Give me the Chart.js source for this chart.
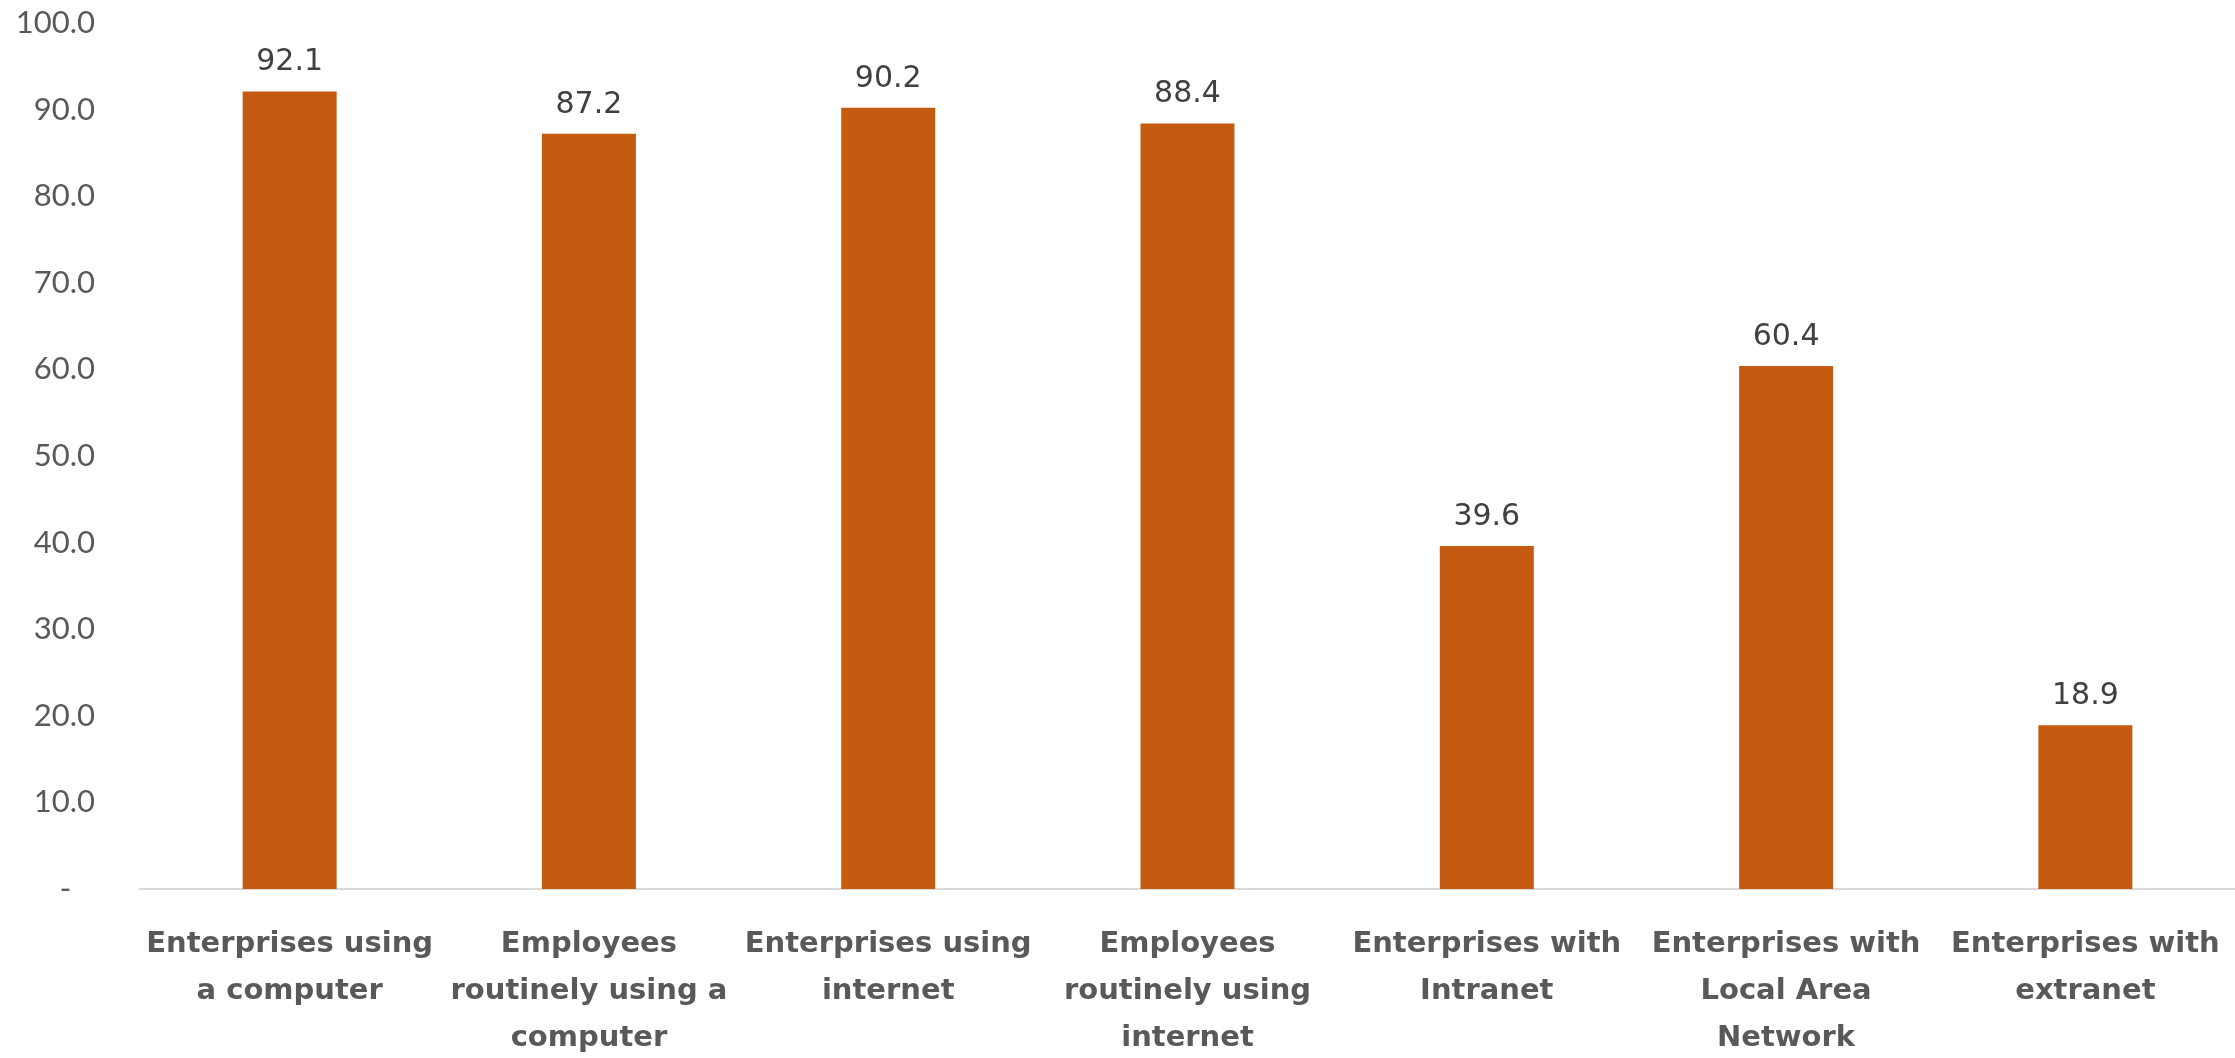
<!DOCTYPE html>
<html>
<head>
<meta charset="utf-8">
<title>ICT use in enterprises</title>
<script src="https://cdn.jsdelivr.net/npm/chart.js@4.4.1/dist/chart.umd.min.js"></script>
<style>
  html, body { margin: 0; padding: 0; background: #ffffff; }
  #wrap { width: 2235px; height: 1058px; }
</style>
</head>
<body>
<div id="wrap"><canvas id="ict-chart" width="2235" height="1058"></canvas></div>
<script>
// categories (split into the lines shown under each bar)
const categories = [
    ['Enterprises using', 'a computer'],
    ['Employees', 'routinely using a', 'computer'],
    ['Enterprises using', 'internet'],
    ['Employees', 'routinely using', 'internet'],
    ['Enterprises with', 'Intranet'],
    ['Enterprises with', 'Local Area', 'Network'],
    ['Enterprises with', 'extranet']
];
const percentages = [92.1, 87.2, 90.2, 88.4, 39.6, 60.4, 18.9];
const yTicks = [0, 10, 20, 30, 40, 50, 60, 70, 80, 90, 100];

const barColor = '#C55A11';

// write the value above each bar
const valueLabels = {
    id: 'valueLabels',
    afterDatasetsDraw(chart) {
        const ctx = chart.ctx;
        const meta = chart.getDatasetMeta(0);
        ctx.save();
        ctx.font = '30px "DejaVu Sans"';
        ctx.fillStyle = '#404040';
        ctx.textAlign = 'center';
        ctx.textBaseline = 'bottom';
        meta.data.forEach((bar, i) => {
            ctx.fillText(percentages[i].toFixed(1), bar.x, bar.y - 14);
        });
        ctx.restore();
    }
};

document.addEventListener('DOMContentLoaded', function() {
    const ctx = document.getElementById('ict-chart').getContext('2d');
    new Chart(ctx, {
        type: 'bar',
        data: {
            labels: categories,
            datasets: [{
                data: percentages,
                backgroundColor: barColor,
                borderWidth: 0,
                categoryPercentage: 1.0,
                barPercentage: 0.314
            }]
        },
        options: {
            responsive: false,
            animation: false,
            devicePixelRatio: 1,
            layout: { padding: { top: 23, right: 0, left: 0, bottom: 0 } },
            plugins: {
                legend: { display: false },
                tooltip: { enabled: false }
            },
            scales: {
                x: {
                    grid: { display: false, drawTicks: false },
                    border: { display: true, color: '#d9d9d9', width: 2 },
                    ticks: {
                        color: '#595959',
                        font: { family: '"DejaVu Sans"', size: 29, weight: 'bold', lineHeight: 1.62 },
                        padding: 32,
                        maxRotation: 0,
                        autoSkip: false
                    },
                    // fixed band for the three-line labels, no side overhang
                    afterFit(axis) {
                        axis.height = 169;
                        axis.paddingLeft = 0;
                        axis.paddingRight = 0;
                    }
                },
                y: {
                    min: 0,
                    max: 100,
                    afterBuildTicks(axis) {
                        axis.ticks = yTicks.map(v => ({ value: v }));
                    },
                    grid: { display: false, drawTicks: false },
                    border: { display: false },
                    ticks: {
                        color: '#595959',
                        font: { family: 'Lato', size: 31 },
                        padding: 45,
                        callback: v => v === 0 ? '-   ' : v.toFixed(1)
                    },
                    afterFit(axis) {
                        axis.width = 140;
                        axis.paddingTop = 0;
                        axis.paddingBottom = 0;
                    }
                }
            }
        },
        plugins: [valueLabels]
    });
});
</script>
</body>
</html>
